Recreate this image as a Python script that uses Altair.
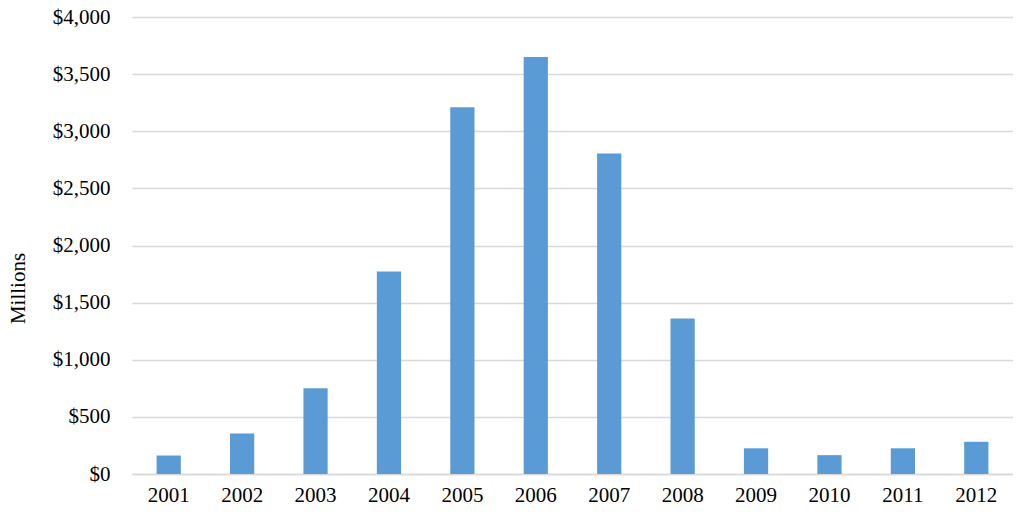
import altair as alt
import pandas as pd

years = ["2001", "2002", "2003", "2004", "2005", "2006",
         "2007", "2008", "2009", "2010", "2011", "2012"]
values = [162, 355, 750, 1772, 3210, 3650, 2805, 1360, 225, 165, 225, 282]

df = pd.DataFrame({"year": years, "value": values})

font = "Liberation Serif"

chart = alt.Chart(df).mark_bar(color="#5B9BD5").encode(
    x=alt.X("year:N", sort=years,
            scale=alt.Scale(paddingInner=0.67, paddingOuter=0.335),
            axis=alt.Axis(title=None, labelAngle=0, labelFont=font, labelFontSize=21,
                          labelColor="#000000", labelPadding=10, ticks=False,
                          domain=True, domainColor="#d9d9d9", domainWidth=1.5)),
    y=alt.Y("value:Q",
            scale=alt.Scale(domain=[0, 4000], nice=False),
            axis=alt.Axis(title="Millions", values=list(range(0, 4001, 500)),
                          format="$,.0f", labelFont=font, labelFontSize=21,
                          labelColor="#000000", labelPadding=22, ticks=False,
                          domain=False, grid=True, gridColor="#d9d9d9", gridWidth=1.5,
                          titleFont=font, titleFontSize=21, titleFontWeight="normal",
                          titleColor="#000000", titleAngle=-90, titleX=-114, titleY=271,
                          titleAlign="center", titleBaseline="middle")),
).properties(
    width=881,
    height=457,
    autosize=alt.AutoSizeParams(type="none"),
    padding={"left": 124, "top": 9, "right": 0, "bottom": 40},
).configure_view(stroke=None)

chart.save("out.html", embed_options={"renderer": "svg", "actions": False})
